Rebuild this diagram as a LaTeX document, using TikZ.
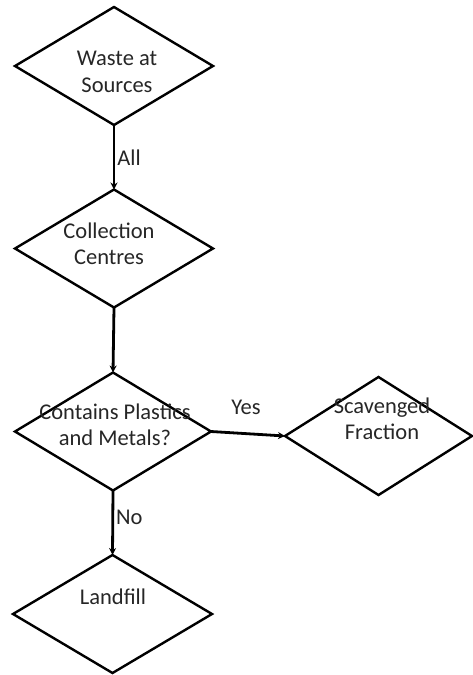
\documentclass[tikz,border=0pt]{standalone}
\usepackage{fontspec}
\setmainfont{Carlito}
\usetikzlibrary{shapes.geometric,arrows.meta}
\begin{document}
\begin{tikzpicture}[x=1pt,y=-1pt,
  dia/.style={draw=black,line width=2.4pt,shape=diamond,inner sep=0pt,outer sep=0pt,
    minimum width=#1,minimum height=118pt},
  txt/.style={font=\fontsize{22.5}{26.5}\selectfont,align=center,text=black!85,inner sep=0pt},
  lbl/.style={font=\fontsize{22.5}{26.5}\selectfont,text=black!85,inner sep=1pt},
  arr/.style={draw=black,line width=2.8pt,-{Stealth[length=7pt,width=7pt]}}]
\useasboundingbox (0,0) rectangle (472,675);
\node[dia=198pt] (d1) at (114,66) {};
\node[txt] (t1) at (117,72) {Waste at\\Sources};
\node[dia=198pt] (d2) at (114,248.5) {};
\node[txt] (t2) at (109,244) {Collection\\Centres};
\node[dia=196pt] (d3) at (113,431.5) {};
\node[txt] (t3) at (115,425) {Contains Plastics\\and Metals?};
\node[dia=187pt] (d4) at (378.5,436) {};
\node[txt] (t4) at (382,419) {Scavenged\\Fraction};
\node[dia=199pt] (d5) at (112.5,614) {};
\node[txt] (t5) at (113,597) {Landfill};
\draw[arr] (d1.south) -- node[lbl,anchor=west,xshift=1pt] (l1) {All} (d2.north);
\draw[arr] (d2.south) -- (d3.north);
\draw[arr] (d3.east) -- node[lbl,yshift=26pt,xshift=-2pt] (l2) {Yes} (d4.west);
\draw[arr] (d3.south) -- node[lbl,anchor=west,pos=0.42,xshift=1pt] (l3) {No} (d5.north);
\end{tikzpicture}
\end{document}
